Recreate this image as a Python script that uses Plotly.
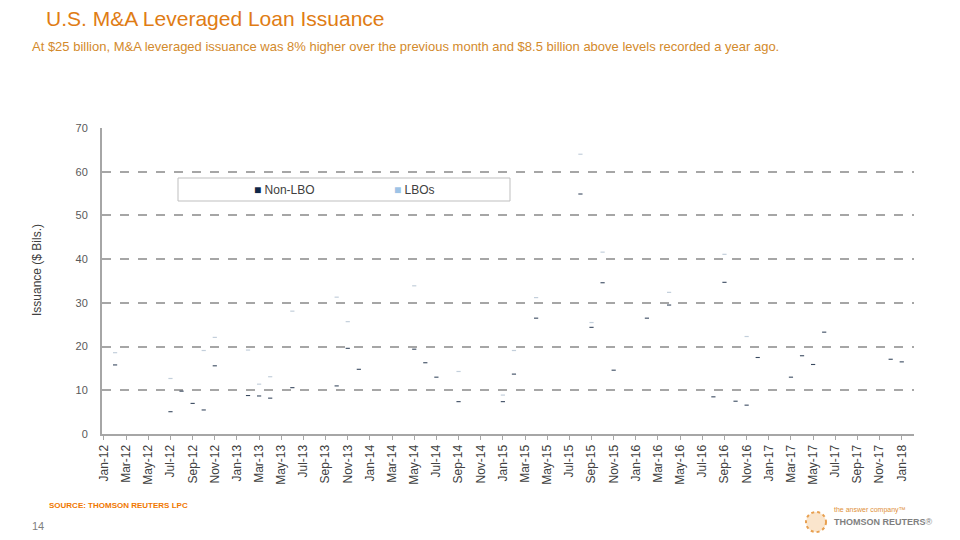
import plotly.graph_objects as go

# ---- data ----
month_names = ["Jan", "Feb", "Mar", "Apr", "May", "Jun", "Jul", "Aug", "Sep", "Oct", "Nov", "Dec"]
months = [f"{m}-{y:02d}" for y in range(12, 19) for m in month_names][:73]  # Jan-12 .. Jan-18

# values ($ bn); None where nothing is visible
non_lbo_points = {
    "Feb-12": 15.8, "Jul-12": 5.1, "Aug-12": 9.8, "Sep-12": 7.0, "Oct-12": 5.5, "Nov-12": 15.6,
    "Feb-13": 8.8, "Mar-13": 8.7, "Apr-13": 8.2, "Jun-13": 10.6, "Oct-13": 11.0, "Nov-13": 19.6,
    "Dec-13": 14.8, "May-14": 19.4, "Jun-14": 16.3, "Jul-14": 13.0, "Sep-14": 7.4, "Jan-15": 7.4,
    "Feb-15": 13.7, "Apr-15": 26.5, "Aug-15": 54.9, "Sep-15": 24.4, "Oct-15": 34.6, "Nov-15": 14.6,
    "Feb-16": 26.5, "Apr-16": 29.5, "Aug-16": 8.5, "Sep-16": 34.7, "Oct-16": 7.5, "Nov-16": 6.6,
    "Dec-16": 17.5, "Mar-17": 13.0, "Apr-17": 17.9, "May-17": 15.9, "Jun-17": 23.3, "Dec-17": 17.1,
    "Jan-18": 16.5,
}
lbo_points = {
    "Feb-12": 2.8, "Jul-12": 7.6, "Oct-12": 13.6, "Nov-12": 6.5, "Feb-13": 10.4, "Mar-13": 2.7,
    "Apr-13": 4.9, "Jun-13": 17.5, "Oct-13": 20.3, "Nov-13": 6.1, "May-14": 14.5, "Sep-14": 6.9,
    "Jan-15": 1.5, "Feb-15": 5.4, "Apr-15": 4.7, "Aug-15": 9.1, "Sep-15": 1.1, "Oct-15": 7.0,
    "Apr-16": 2.9, "Sep-16": 6.4, "Nov-16": 15.7,
}
non_lbo = [non_lbo_points.get(m) for m in months]
lbos = [lbo_points.get(m) for m in months]

y_ticks = [0, 10, 20, 30, 40, 50, 60, 70]
x_tick_labels = months[::2]

# ---- figure ----
idx = list(range(len(months)))
lbo_top = [(a + b) if (a is not None and b is not None) else None for a, b in zip(non_lbo, lbos)]

NAVY = "#0f2748"
LIGHT = "#9dc3e6"

fig = go.Figure()
fig.add_trace(go.Scatter(
    x=idx, y=lbo_top, mode="markers", name="LBOs", showlegend=False,
    marker=dict(symbol="line-ew", size=3, line=dict(color="#c3cfdb", width=1.2)),
))
fig.add_trace(go.Scatter(
    x=idx, y=non_lbo, mode="markers", name="Non-LBO", showlegend=False,
    marker=dict(symbol="line-ew", size=3, line=dict(color="#3a4a60", width=1.1)),
))

# page body has an 8px margin, so the figure is drawn at (8, 8)
OFF = 8
W, H = 960 - OFF, 540 - OFF
L, R, T, B = 102 - OFF, 46, 128 - OFF, 106
pw, ph = W - L - R, H - T - B

def px(x):  # page pixel -> paper
    return (x - OFF - L) / pw

def py(y):
    return (H - B - (y - OFF)) / ph

fig.update_layout(
    width=W, height=H,
    margin=dict(l=L, r=R, t=T, b=B),
    plot_bgcolor="white", paper_bgcolor="white",
    showlegend=False,
    xaxis=dict(
        range=[-0.18, -0.18 + pw / 11.08],
        tickmode="array", tickvals=idx[::2], ticktext=x_tick_labels,
        tickangle=-90, tickfont=dict(family="Liberation Sans", size=12, color="#404040"),
        showgrid=False, zeroline=False,
        showline=True, linecolor="#a6a6a6", linewidth=2,
        ticks="outside", ticklen=4, tickcolor="#a6a6a6", tickwidth=1,
    ),
    yaxis=dict(
        range=[0, 70], tickmode="array", tickvals=y_ticks,
        tickfont=dict(family="Liberation Sans", size=11, color="#595959"),
        showgrid=True, gridcolor="#a6a6a6", griddash="dash", gridwidth=1.5,
        zeroline=False, showline=True, linecolor="#a6a6a6", linewidth=2,
        ticks="outside", ticklen=10, tickcolor="white",
    ),
)

annotations = [
    dict(text="U.S. M&A Leveraged Loan Issuance", x=px(44), y=py(19), xref="paper", yref="paper",
         xanchor="left", yanchor="middle", showarrow=False,
         font=dict(family="Liberation Sans", size=21, color="#e07c14")),
    dict(text="At $25 billion, M&A leveraged issuance was 8% higher over the previous month and $8.5 billion above levels recorded a year ago.",
         x=px(30), y=py(46), xref="paper", yref="paper", xanchor="left", yanchor="middle", showarrow=False,
         font=dict(family="Liberation Sans", size=13, color="#d38a2c")),
    dict(text="Issuance ($ Bils.)", x=px(37), y=py(270), xref="paper", yref="paper", textangle=-90,
         xanchor="center", yanchor="middle", showarrow=False,
         font=dict(family="Liberation Sans", size=12, color="#404040")),
    dict(text=f"<span style='color:{NAVY}'>■</span> Non-LBO", x=px(252), y=py(190), xref="paper", yref="paper",
         xanchor="left", yanchor="middle", showarrow=False,
         font=dict(family="Liberation Sans", size=12, color="#404040")),
    dict(text=f"<span style='color:{LIGHT}'>■</span> LBOs", x=px(392), y=py(190), xref="paper", yref="paper",
         xanchor="left", yanchor="middle", showarrow=False,
         font=dict(family="Liberation Sans", size=12, color="#404040")),
    dict(text="<b>SOURCE: THOMSON REUTERS LPC</b>", x=px(47), y=py(505), xref="paper", yref="paper",
         xanchor="left", yanchor="middle", showarrow=False,
         font=dict(family="Liberation Sans", size=8, color="#f07800")),
    dict(text="14", x=px(30), y=py(526), xref="paper", yref="paper",
         xanchor="left", yanchor="middle", showarrow=False,
         font=dict(family="Liberation Sans", size=11, color="#7f7f7f")),
    dict(text="the answer company™", x=px(832), y=py(510), xref="paper", yref="paper",
         xanchor="left", yanchor="middle", showarrow=False,
         font=dict(family="Liberation Sans", size=7, color="#e0903a")),
    dict(text="<b>THOMSON REUTERS</b>®", x=px(832), y=py(522), xref="paper", yref="paper",
         xanchor="left", yanchor="middle", showarrow=False,
         font=dict(family="Liberation Sans", size=9, color="#7f7f7f")),
]
fig.update_layout(annotations=annotations)

fig.add_shape(type="rect", xref="paper", yref="paper",
              x0=px(178), x1=px(510), y0=py(201), y1=py(178),
              line=dict(color="#bfbfbf", width=1), fillcolor="white", layer="above")
fig.add_shape(type="circle", xref="paper", yref="paper",
              x0=px(806), x1=px(826), y0=py(532), y1=py(512),
              line=dict(color="#e8a050", width=2, dash="dot"), fillcolor="rgba(240,180,110,0.35)")

fig.write_html("out.html")
